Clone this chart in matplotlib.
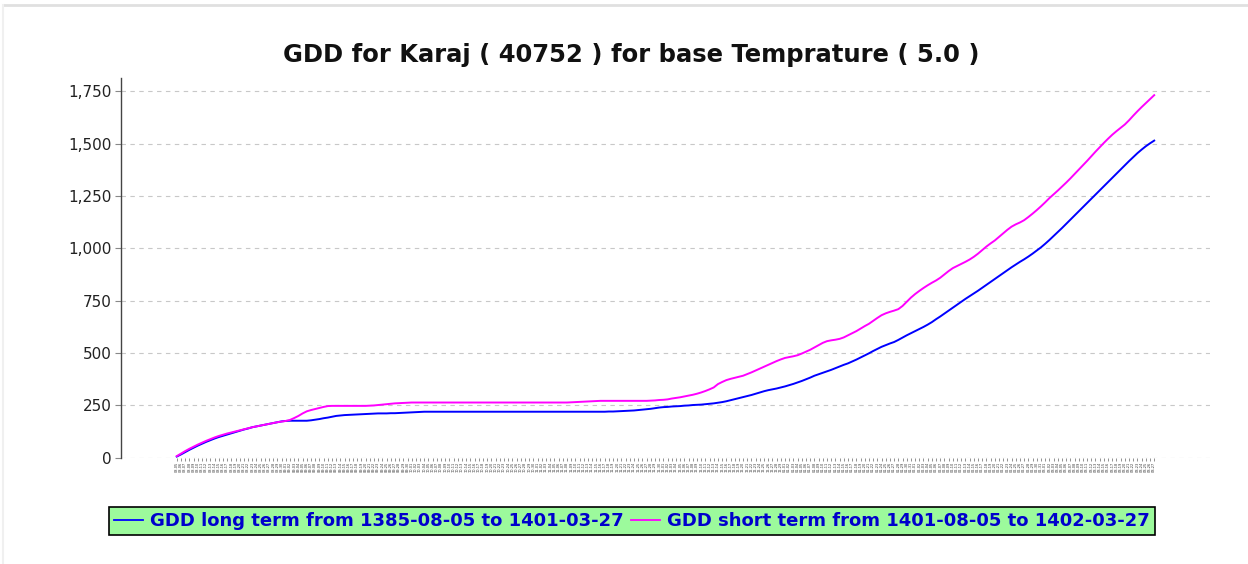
import matplotlib
matplotlib.use("Agg")
import matplotlib.pyplot as plt
from matplotlib.lines import Line2D

TITLE = "GDD for Karaj ( 40752 ) for base Temprature ( 5.0 )"
LONG_LABEL = "GDD long term from 1385-08-05 to 1401-03-27"
SHORT_LABEL = "GDD short term from 1401-08-05 to 1402-03-27"

# Persian calendar months shown on the axis: (month, first day, last day)
MONTH_SPANS = [(8, 5, 30), (9, 1, 30), (10, 1, 30), (11, 1, 30),
               (12, 1, 29), (1, 1, 31), (2, 1, 31), (3, 1, 27)]

gdd_long = [
    6, 16, 27, 38, 48, 58, 67, 76, 84, 92,
    99, 105, 111, 117, 123, 129, 135, 140, 146, 150,
    154, 158, 162, 166, 170, 174, 176, 177, 177, 177,
    177, 177, 179, 182, 185, 189, 192, 196, 200, 202,
    204, 205, 206, 207, 208, 209, 210, 211, 212, 212,
    212, 213, 213, 214, 215, 216, 217, 218, 219, 220,
    220, 220, 220, 220, 220, 220, 220, 220, 220, 220,
    220, 220, 220, 220, 220, 220, 220, 220, 220, 220,
    220, 220, 220, 220, 220, 220, 220, 220, 220, 220,
    220, 220, 220, 220, 220, 220, 220, 220, 220, 220,
    220, 220, 220, 221, 221, 222, 223, 224, 225, 226,
    228, 230, 232, 234, 237, 240, 242, 243, 245, 246,
    247, 249, 250, 252, 253, 254, 256, 258, 260, 263,
    266, 270, 275, 280, 285, 290, 295, 300, 306, 312,
    318, 323, 327, 331, 336, 341, 347, 353, 360, 367,
    375, 383, 392, 399, 406, 413, 420, 428, 436, 444,
    451, 460, 469, 479, 489, 499, 510, 520, 530, 538,
    546, 553, 563, 574, 585, 595, 605, 615, 625, 636,
    648, 662, 675, 689, 703, 717, 731, 745, 759, 772,
    785, 798, 812, 826, 840, 854, 868, 882, 896, 910,
    923, 936, 948, 961, 975, 990, 1005, 1022, 1040, 1059,
    1078, 1097, 1117, 1137, 1157, 1177, 1197, 1217, 1237, 1257,
    1277, 1297, 1317, 1337, 1357, 1377, 1397, 1417, 1436, 1455,
    1472, 1488, 1502, 1515,
]

gdd_short = [
    8, 20, 32, 43, 53, 63, 72, 81, 89, 97,
    104, 110, 116, 121, 126, 131, 136, 141, 146, 150,
    154, 158, 162, 166, 170, 173, 176, 181, 190, 200,
    212, 222, 228, 233, 238, 243, 247, 248, 248, 248,
    248, 248, 248, 248, 248, 248, 249, 250, 252, 254,
    256, 258, 260, 261, 262, 263, 264, 264, 264, 264,
    264, 264, 264, 264, 264, 264, 264, 264, 264, 264,
    264, 264, 264, 264, 264, 264, 264, 264, 264, 264,
    264, 264, 264, 264, 264, 264, 264, 264, 264, 264,
    264, 264, 264, 264, 265, 266, 267, 268, 269, 270,
    271, 272, 272, 272, 272, 272, 272, 272, 272, 272,
    272, 272, 272, 273, 274, 276, 277, 279, 283, 286,
    289, 293, 297, 301, 306, 312, 319, 327, 336, 352,
    362, 371, 377, 382, 387, 392, 400, 408, 417, 426,
    435, 444, 453, 462, 470, 477, 481, 485, 490, 498,
    507, 516, 527, 538, 549, 557, 561, 564, 568, 575,
    585, 595, 605, 617, 629, 640, 654, 668, 681, 690,
    697, 703, 710, 725, 745, 765, 782, 797, 811, 824,
    836, 847, 860, 876, 892, 906, 916, 926, 936, 947,
    960, 975, 992, 1009, 1024, 1038, 1055, 1072, 1089, 1104,
    1115, 1124, 1135, 1150, 1166, 1183, 1201, 1220, 1240, 1258,
    1276, 1295, 1314, 1334, 1355, 1376, 1397, 1418, 1440, 1462,
    1483, 1504, 1524, 1543, 1560, 1576, 1592, 1612, 1634, 1655,
    1675, 1694, 1713, 1732,
]

y_ticks = [0, 250, 500, 750, 1000, 1250, 1500, 1750]

LONG_COLOR = "#0000FF"
SHORT_COLOR = "#FF00FF"
TEXT_BLUE = "#0000CC"
LEGEND_BG = "#9CFA9C"


def day_labels():
    labels = []
    for month, first, last in MONTH_SPANS:
        for day in range(first, last + 1):
            labels.append(f"{month:02d}-{day:02d}")
    return labels


def main():
    labels = day_labels()
    xs = list(range(len(labels)))

    fig = plt.figure(figsize=(12.48, 5.64), dpi=100)
    ax = fig.add_axes([121 / 1248, 1 - 458 / 564, 1089 / 1248, 380 / 564])

    ax.plot(xs, gdd_long, color=LONG_COLOR, lw=1.4, label=LONG_LABEL, zorder=3)
    ax.plot(xs, gdd_short, color=SHORT_COLOR, lw=1.4, label=SHORT_LABEL, zorder=3)

    ax.set_xlim(-13.3, len(labels) - 1 + 13.3)
    ax.set_ylim(-1, 1814)

    ax.set_yticks(y_ticks)
    ax.set_yticklabels([f"{v:,}" for v in y_ticks], fontsize=11, color="#222222")
    ax.yaxis.grid(True, color="#c8c8c8", linestyle=(0, (4, 4)), lw=0.8)
    ax.set_axisbelow(True)

    # one tiny label per day, kept small enough that neighbours do not touch
    ax.set_xticks(xs)
    ax.set_xticklabels(labels, rotation=90, fontsize=2.5, color="#333333")
    ax.tick_params(axis="x", length=2, width=0.5, color="#666666", pad=1)
    ax.tick_params(axis="y", length=4, width=0.8, color="#888888", pad=3)

    for side in ("top", "right", "bottom"):
        ax.spines[side].set_visible(False)
    ax.spines["left"].set_color("#444444")
    ax.spines["left"].set_linewidth(1.0)

    fig.text(0.506, 1 - 55 / 564, TITLE, ha="center", va="center",
             fontsize=17.5, fontweight="bold", color="#111111")

    handles = [Line2D([], [], color=LONG_COLOR, lw=1.3),
               Line2D([], [], color=SHORT_COLOR, lw=1.3)]
    leg = fig.legend(handles, [LONG_LABEL, SHORT_LABEL], loc="center",
                     bbox_to_anchor=(632 / 1248, 1 - 521 / 564), ncol=2,
                     fancybox=False, framealpha=1, facecolor=LEGEND_BG,
                     edgecolor="#000000", handlelength=1.6, handletextpad=0.4,
                     columnspacing=0.4, borderpad=0.3,
                     prop={"size": 13, "weight": "bold"})
    leg.get_frame().set_linewidth(1.2)
    for txt in leg.get_texts():
        txt.set_color(TEXT_BLUE)

    # thin frame of the surrounding panel
    fig.add_artist(Line2D([3 / 1248, 1], [1 - 4.5 / 564, 1 - 4.5 / 564],
                          color="#e0e0e0", lw=2, transform=fig.transFigure))
    fig.add_artist(Line2D([3 / 1248, 3 / 1248], [0, 1 - 4.5 / 564],
                          color="#f0f0f0", lw=1.5, transform=fig.transFigure))

    fig.savefig("out.png", dpi=100)
    plt.close(fig)


if __name__ == "__main__":
    main()
